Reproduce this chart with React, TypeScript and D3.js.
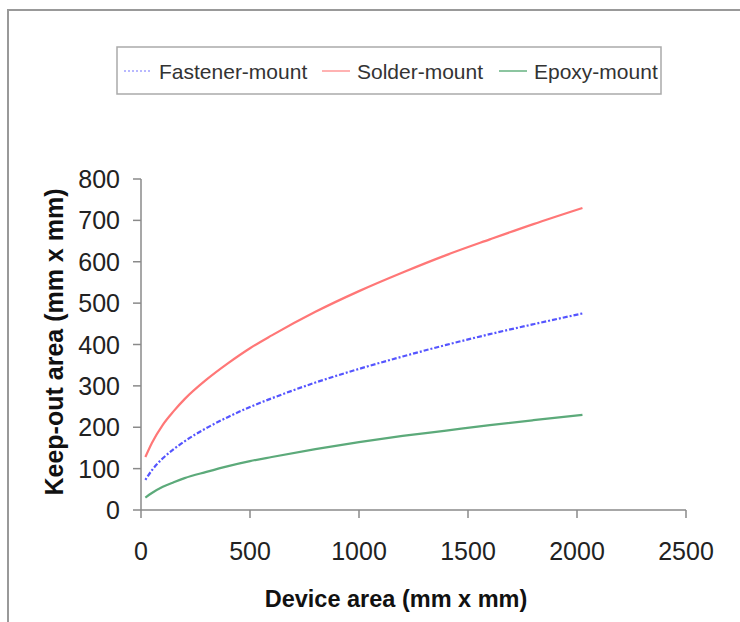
import React from "react";
import * as d3 from "d3";

const deviceArea = [20, 50, 100, 150, 200, 300, 400, 500, 600, 800, 1000, 1200, 1400, 1600, 1800, 2025];
const fastener = [73, 96, 125, 147, 166, 198, 225, 249, 270, 308, 341, 371, 399, 425, 449, 475];
const solder = [128, 162, 206, 239, 268, 315, 355, 391, 422, 479, 529, 574, 616, 654, 691, 730];
const epoxy = [30, 41, 56, 67, 77, 92, 106, 118, 128, 147, 164, 179, 192, 205, 217, 230];
const xTicks = [0, 500, 1000, 1500, 2000, 2500];
const yTicks = [0, 100, 200, 300, 400, 500, 600, 700, 800];

const seriesNames = ["Fastener-mount", "Solder-mount", "Epoxy-mount"];

export default function App() {
  const W = 740, H = 622;
  const x = d3.scaleLinear().domain([0, 2500]).range([141, 686]);
  const y = d3.scaleLinear().domain([0, 800]).range([510, 179]);
  const line = d3
    .line<[number, number]>()
    .x((d) => x(d[0]))
    .y((d) => y(d[1]))
    .curve(d3.curveMonotoneX);
  const mk = (vals: number[]) => deviceArea.map((a, i) => [a, vals[i]] as [number, number]);

  const series = [
    { name: seriesNames[0], data: fastener, color: "#5555ff", dash: "2,2,5,2", legColor: "#b8b8ff", legDash: "2,2" },
    { name: seriesNames[1], data: solder, color: "#ff7777", dash: "", legColor: "#ffaaaa", legDash: "" },
    { name: seriesNames[2], data: epoxy, color: "#5caa7a", dash: "", legColor: "#7fbf96", legDash: "" },
  ];
  const legendX = [124, 322, 499];
  const font = "'Liberation Sans', Arial, sans-serif";
  const axisColor = "#8a8a8a";

  return (
    <svg width={W} height={H} style={{ position: "absolute", left: 0, top: 0 }} fontFamily={font}>
      <rect x={0} y={0} width={W} height={H} fill="#fff" />
      <rect x={8} y={10} width={W + 20} height={H + 20} fill="none" stroke="#999" strokeWidth={2} />
      {/* legend */}
      <rect x={117} y={47} width={544} height={47} fill="#fff" stroke="#aaa" strokeWidth={1.5} />
      {series.map((s, i) => (
        <g key={s.name}>
          <line x1={legendX[i]} x2={legendX[i] + 28} y1={71} y2={71} stroke={s.legColor} strokeWidth={1.8} strokeDasharray={s.legDash} />
          <text x={legendX[i] + 35} y={78.5} fontSize={21} fill="#333">{s.name}</text>
        </g>
      ))}
      {/* axes */}
      <line x1={x(0)} x2={x(0)} y1={y(800)} y2={y(0)} stroke={axisColor} strokeWidth={1.5} />
      <line x1={x(0)} x2={x(2500)} y1={y(0)} y2={y(0)} stroke={axisColor} strokeWidth={1.5} />
      {yTicks.map((t) => (
        <g key={"y" + t}>
          <line x1={x(0) - 8} x2={x(0)} y1={y(t)} y2={y(t)} stroke={axisColor} strokeWidth={1.5} />
          <text x={120} y={y(t)} dy="0.36em" textAnchor="end" fontSize={25} fill="#222">{t}</text>
        </g>
      ))}
      {xTicks.map((t) => (
        <g key={"x" + t}>
          <line x1={x(t)} x2={x(t)} y1={y(0)} y2={y(0) + 8} stroke={axisColor} strokeWidth={1.5} />
          <text x={x(t)} y={560} textAnchor="middle" fontSize={25} fill="#222">{t}</text>
        </g>
      ))}
      <text x={396} y={607} textAnchor="middle" fontSize={23.5} fontWeight="bold" fill="#111">Device area (mm x mm)</text>
      <text transform={`translate(63,342) rotate(-90)`} textAnchor="middle" fontSize={25} fontWeight="bold" fill="#111">Keep-out area (mm x mm)</text>
      {series.map((s) => (
        <path key={"p" + s.name} d={line(mk(s.data)) || ""} fill="none" stroke={s.color} strokeWidth={2.2} strokeDasharray={s.dash} />
      ))}
    </svg>
  );
}
